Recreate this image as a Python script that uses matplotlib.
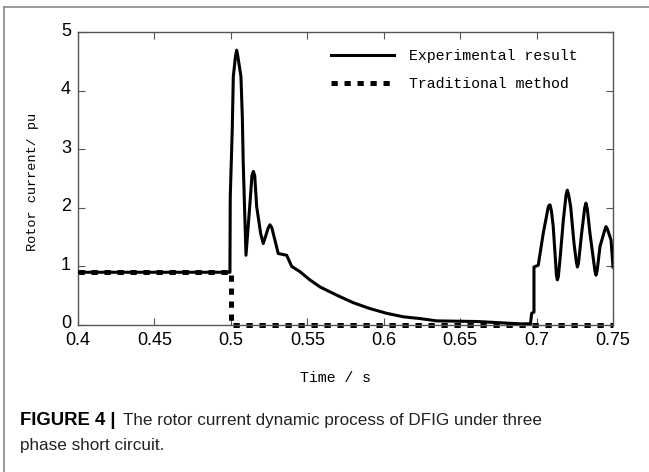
import matplotlib
matplotlib.use("Agg")
import matplotlib.pyplot as plt
from matplotlib.lines import Line2D
import matplotlib.transforms as mtransforms

# ---- data ----
t_exp = [0.40, 0.4994, 0.4996, 0.5009, 0.5016, 0.5030, 0.5038, 0.5046, 0.5066, 0.5075,
         0.5081, 0.5092, 0.5099, 0.5125, 0.5138, 0.5147, 0.5156, 0.5169, 0.5195, 0.5212,
         0.5245, 0.5256, 0.5268, 0.5310, 0.5365, 0.5398, 0.5452, 0.5517, 0.5583, 0.5692,
         0.5801, 0.5910, 0.6019, 0.6128, 0.6237, 0.6347, 0.6608, 0.6892, 0.6960, 0.6968,
         0.6983, 0.6983, 0.7011, 0.7044, 0.7077, 0.7082, 0.7088, 0.7097, 0.7109, 0.7130,
         0.7136, 0.7142, 0.7153, 0.7175, 0.7193, 0.7201, 0.7210, 0.7223, 0.7245, 0.7260,
         0.7267, 0.7274, 0.7295, 0.7315, 0.7323, 0.7332, 0.7349, 0.7382, 0.7389, 0.7396,
         0.7415, 0.7446, 0.7454, 0.7463, 0.7487, 0.7500]
v_exp = [0.90, 0.90, 2.18, 3.33, 4.24, 4.58, 4.69, 4.58, 4.24, 3.55,
         2.76, 1.79, 1.19, 2.08, 2.55, 2.62, 2.55, 2.02, 1.56, 1.39,
         1.66, 1.71, 1.66, 1.22, 1.19, 1.00, 0.91, 0.77, 0.65, 0.51,
         0.38, 0.28, 0.20, 0.14, 0.11, 0.07, 0.06, 0.02, 0.02, 0.20,
         0.22, 0.99, 1.02, 1.57, 2.02, 2.04, 2.05, 1.95, 1.68, 0.85,
         0.77, 0.82, 1.11, 1.79, 2.22, 2.30, 2.22, 2.02, 1.39, 1.08,
         0.99, 1.05, 1.57, 2.00, 2.08, 1.98, 1.57, 0.92, 0.85, 0.92,
         1.34, 1.62, 1.68, 1.64, 1.45, 0.99]

t_trad = [0.40, 0.50, 0.50, 0.75]
v_trad = [0.90, 0.90, 0.00, 0.00]

xticks = [0.4, 0.45, 0.5, 0.55, 0.6, 0.65, 0.7, 0.75]
xticklabels = ["0.4", "0.45", "0.5", "0.55", "0.6", "0.65", "0.7", "0.75"]
yticks = [0, 1, 2, 3, 4, 5]

label_exp = "Experimental result"
label_trad = "Traditional method"
xlabel = "Time / s"
ylabel = "Rotor current/ pu"

W, H = 649, 472
fig = plt.figure(figsize=(W / 100, H / 100), dpi=100)
fig.patch.set_facecolor("white")

# outer frame lines (top and left)
frame_col = "#8a8a8a"
fig.add_artist(Line2D([4 / W, 1.0], [1 - 7 / H, 1 - 7 / H], transform=fig.transFigure,
                      color=frame_col, lw=1.2))
fig.add_artist(Line2D([4 / W, 4 / W], [0.0, 1 - 7 / H], transform=fig.transFigure,
                      color=frame_col, lw=1.2))

L, R, T, B = 78, 613, 32, 325
ax = fig.add_axes([L / W, (H - B) / H, (R - L) / W, (B - T) / H])

mono = "Liberation Mono"

ax.plot(t_trad, v_trad, color="black", lw=3.6, linestyle=(0, (1.25, 1.35)),
        dash_capstyle="butt", solid_capstyle="butt", label=label_trad, zorder=2,
        clip_on=False)
ax.plot(t_exp, v_exp, color="black", lw=2.2, solid_joinstyle="round",
        label=label_exp, zorder=3)

ax.set_xlim(0.4, 0.75)
ax.set_ylim(0, 5)
ax.set_xticks(xticks)
ax.set_xticklabels(xticklabels)
ax.set_yticks(yticks)
ax.tick_params(direction="in", length=5, width=0.8, color="#555555",
               top=True, right=True, labelsize=13, pad=5)
for lab in ax.get_xticklabels() + ax.get_yticklabels():
    lab.set_family("Liberation Sans")
shift_up = mtransforms.ScaledTranslation(0, 3 / 100, fig.dpi_scale_trans)
for lab in ax.get_yticklabels():
    lab.set_transform(lab.get_transform() + shift_up)
for s in ax.spines.values():
    s.set_color("#555555")
    s.set_linewidth(1.0)

ax.set_xlabel(xlabel, fontfamily=mono, fontsize=10.7)
ax.xaxis.set_label_coords((336 - L) / (R - L), (B - 371) / (B - T))
ax.set_ylabel(ylabel, fontfamily=mono, fontsize=9.7)
ax.yaxis.set_label_coords((39 - L) / (R - L), (B - 181.5) / (B - T))

h, l = ax.get_legend_handles_labels()
leg = ax.legend([h[1], h[0]], [l[1], l[0]], loc="upper right", frameon=False,
                bbox_to_anchor=(1 - 21 / (R - L), 1 - 2 / (B - T)),
                prop={"family": mono, "size": 10.7}, handlelength=4.2,
                handletextpad=1.0, borderaxespad=0.6, labelspacing=0.95)

# caption
fig.text(20 / W, 1 - 425 / H, "FIGURE 4 |", fontfamily="Liberation Sans",
         fontweight="bold", fontsize=13.3, va="baseline", ha="left")
fig.text(123 / W, 1 - 425 / H, "The rotor current dynamic process of DFIG under three",
         fontfamily="Liberation Sans", fontsize=12.3, va="baseline", ha="left", color="#222222")
fig.text(20 / W, 1 - 450 / H, "phase short circuit.", fontfamily="Liberation Sans",
         fontsize=12.3, va="baseline", ha="left", color="#222222")

fig.savefig("out.png", dpi=100)
